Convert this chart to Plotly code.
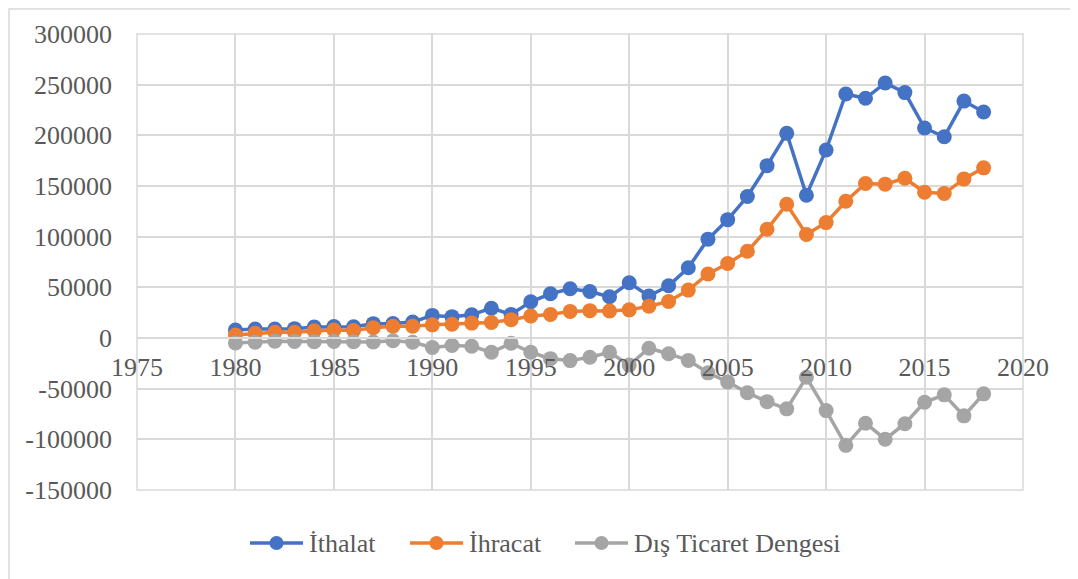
import plotly.graph_objects as go

years = list(range(1980, 2019))

ithalat = [7909, 8933, 8843, 9235, 10757, 11343, 11105, 14158, 14335, 15792,
           22302, 21047, 22871, 29428, 23270, 35709, 43627, 48559, 45921, 40671,
           54503, 41399, 51554, 69340, 97540, 116774, 139576, 170063, 201964, 140928,
           185544, 240842, 236545, 251661, 242177, 207234, 198618, 233800, 223047]

ihracat = [2910, 4703, 5746, 5728, 7134, 7958, 7457, 10190, 11662, 11625,
           12959, 13593, 14715, 15345, 18106, 21637, 23225, 26261, 26974, 26587,
           27775, 31334, 36059, 47253, 63167, 73476, 85535, 107272, 132027, 102143,
           113883, 134907, 152462, 151803, 157610, 143839, 142530, 156993, 167921]

denge = [-4999, -4230, -3097, -3507, -3623, -3385, -3648, -3968, -2673, -4167,
         -9343, -7454, -8156, -14083, -5164, -14072, -20402, -22298, -18947, -14084,
         -26728, -10065, -15495, -22087, -34373, -43298, -54041, -62791, -69937, -38785,
         -71661, -105935, -84083, -99858, -84567, -63395, -56088, -76807, -55126]

y_ticks = [-150000, -100000, -50000, 0, 50000, 100000, 150000, 200000, 250000, 300000]
y_labels = ["-150000", "-100000", "-50000", "0", "50000", "100000",
            "150000", "200000", "250000", "300000"]

series = [
    ("İthalat", ithalat, "#4472C4"),
    ("İhracat", ihracat, "#ED7D31"),
    ("Dış Ticaret Dengesi", denge, "#A5A5A5"),
]

grid = "#D9D9D9"
serif = "Liberation Serif"

# plot area in pixels (figure coords)
L, T, W, H = 129, 26, 886, 456


def px(x):
    return (x - L) / W


def py(y):
    return (T + H - y) / H


fig = go.Figure()
for name, vals, color in series:
    fig.add_trace(go.Scatter(
        x=years, y=vals, name=name, mode="lines+markers",
        line=dict(color=color, width=3.5),
        marker=dict(color=color, size=15),
    ))

shapes = [
    dict(type="rect", xref="paper", yref="paper", x0=px(1), x1=px(1100),
         y0=py(620), y1=py(1), line=dict(color=grid, width=1.5), layer="below"),
    dict(type="rect", xref="paper", yref="paper", x0=0, x1=1, y0=0, y1=1,
         line=dict(color=grid, width=1.5), layer="below"),
]
annotations = []

# legend drawn by hand so the key lines are as long as in the original
leg_y = py(535)
leg_starts = [242, 402, 567]
for (name, vals, color), x0 in zip(series, leg_starts):
    shapes.append(dict(type="line", xref="paper", yref="paper", x0=px(x0), x1=px(x0 + 53),
                       y0=leg_y, y1=leg_y, line=dict(color=color, width=3.5)))
    shapes.append(dict(type="circle", xref="paper", yref="paper",
                       xsizemode="pixel", ysizemode="pixel",
                       xanchor=px(x0 + 26.5), yanchor=leg_y,
                       x0=-7, x1=7, y0=-7, y1=7,
                       fillcolor=color, line=dict(color=color, width=0)))
    annotations.append(dict(xref="paper", yref="paper", x=px(x0 + 57), y=leg_y,
                            text=name, showarrow=False, xanchor="left", yanchor="middle",
                            font=dict(family=serif, size=26, color="#595959")))

fig.update_layout(
    width=1078, height=579,
    margin=dict(l=L, r=1078 - L - W, t=T, b=579 - T - H, autoexpand=False),
    paper_bgcolor="white", plot_bgcolor="white",
    font=dict(family=serif, color="#595959", size=26),
    showlegend=False,
    xaxis=dict(range=[1975, 2020], dtick=5, tick0=1975, showgrid=True, gridcolor=grid,
               gridwidth=1.5, zeroline=False, showline=True, linecolor=grid, linewidth=1.5,
               anchor="free", position=1/3, ticks="", ticklabelstandoff=6),
    yaxis=dict(range=[-150000, 300000], tickvals=y_ticks, ticktext=y_labels,
               showgrid=True, gridcolor=grid, gridwidth=1.5, zeroline=False, ticks="",
               ticklabelstandoff=24),
    shapes=shapes,
    annotations=annotations,
)

fig.write_html("out.html")
